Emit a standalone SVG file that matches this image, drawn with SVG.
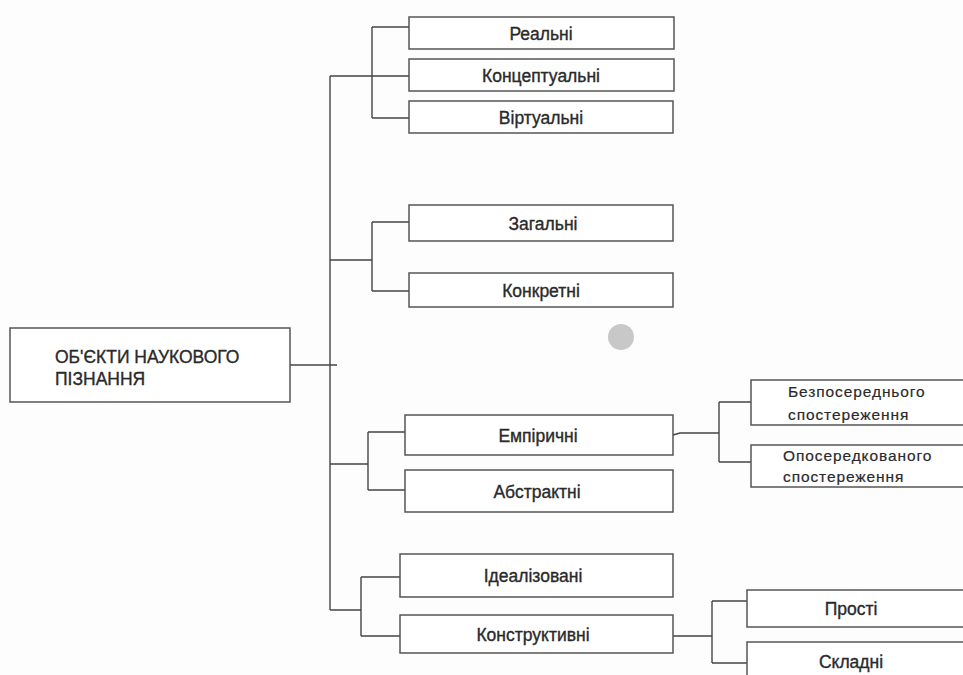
<svg xmlns="http://www.w3.org/2000/svg" width="963" height="675" viewBox="0 0 963 675">
<style>
.box{fill:#fff;stroke:#555;stroke-width:1.5}
.ln{fill:none;stroke:#444;stroke-width:1.4}
text{font-family:"Liberation Sans",Arial,sans-serif;font-size:17.5px;fill:#2a2a2a;stroke:#2a2a2a;stroke-width:0.35}
.c{text-anchor:middle}
.sp{font-size:15.5px;letter-spacing:0.9px;stroke-width:0.2}
</style>
<rect width="963" height="675" fill="#fdfdfd"/>
<g id="connectors">
<path class="ln" d="M330 76V610"/>
<path class="ln" d="M290 365H337"/>
<path class="ln" d="M330 76H409M372 27V118M372 27H409M372 118H409"/>
<path class="ln" d="M330 260H372M372 222V291M372 222H409M372 291H409"/>
<path class="ln" d="M330 464H368M368 432V490M368 432H405M368 490H405"/>
<path class="ln" d="M330 610H361M361 577V636M361 577H400M361 636H400"/>
<path class="ln" d="M673 435L680 433H719M719 402V462M719 402H751M719 462H751"/>
<path class="ln" d="M673 636H712M712 601V663M712 601H747M712 663H747"/>
</g>
<g id="root"><rect class="box" x="10" y="328" width="280" height="74"/><text x="55" y="363">ОБ'ЄКТИ НАУКОВОГО</text><text x="55" y="385">ПІЗНАННЯ</text></g>
<g id="realni"><rect class="box" x="409" y="17" width="265" height="32"/><text class="c" x="541" y="39.5">Реальні</text></g>
<g id="kontseptualni"><rect class="box" x="409" y="59" width="265" height="32"/><text class="c" x="541" y="81.5">Концептуальні</text></g>
<g id="virtualni"><rect class="box" x="409" y="101" width="264" height="32"/><text class="c" x="541" y="123.5">Віртуальні</text></g>
<g id="zagalni"><rect class="box" x="409" y="205" width="264" height="36"/><text class="c" x="543" y="229.5">Загальні</text></g>
<g id="konkretni"><rect class="box" x="409" y="273" width="264" height="34"/><text class="c" x="541" y="296.5">Конкретні</text></g>
<g id="empirychni"><rect class="box" x="405" y="415" width="268" height="40"/><text class="c" x="538" y="441.5">Емпіричні</text></g>
<g id="abstraktni"><rect class="box" x="405" y="470" width="268" height="42"/><text class="c" x="537" y="497.5">Абстрактні</text></g>
<g id="idealizovani"><rect class="box" x="400" y="554" width="273" height="43"/><text class="c" x="533" y="582">Ідеалізовані</text></g>
<g id="konstruktyvni"><rect class="box" x="400" y="615" width="273" height="38"/><text class="c" x="533" y="640.5">Конструктивні</text></g>
<g id="bezposerednogo"><rect class="box" x="751" y="380" width="215" height="45"/><text class="sp" x="788" y="397">Безпосереднього</text><text class="sp" x="788" y="420">спостереження</text></g>
<g id="oposeredkovanogo"><rect class="box" x="751" y="445" width="215" height="42"/><text class="sp" x="783" y="461">Опосередкованого</text><text class="sp" x="783" y="482">спостереження</text></g>
<g id="prosti"><rect class="box" x="747" y="590" width="220" height="37"/><text class="c" x="851" y="615">Прості</text></g>
<g id="skladni"><rect class="box" x="747" y="642" width="220" height="40"/><text class="c" x="851" y="668">Складні</text></g>
<circle cx="621" cy="337" r="13" fill="#c8c8c8"/>
</svg>
